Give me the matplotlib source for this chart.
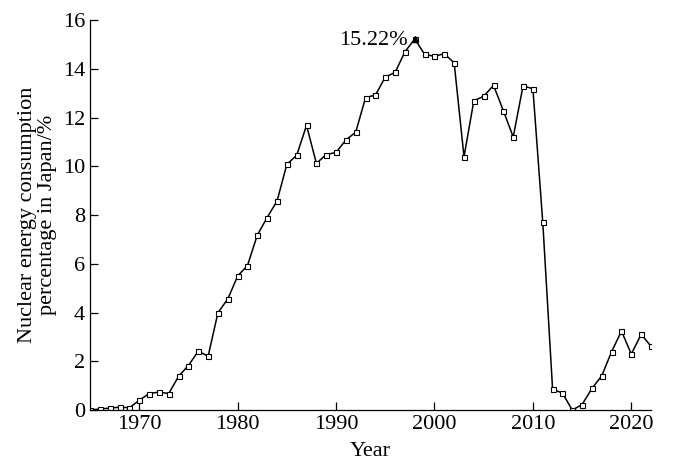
import matplotlib.pyplot as plt
import numpy as np

plt.rcParams['font.family'] = ['Liberation Serif', 'DejaVu Serif']
plt.rcParams['mathtext.fontset'] = 'stix'

# nuclear share of primary energy consumption in Japan, %
years = np.arange(1965, 2023)
share = [0.0, 0.05, 0.08, 0.12, 0.1, 0.4, 0.68, 0.74, 0.68, 1.39,
         1.83, 2.42, 2.21, 4.0, 4.56, 5.5, 5.93, 7.18, 7.9, 8.57,
         10.08, 10.45, 11.68, 10.12, 10.48, 10.57, 11.08, 11.4, 12.82, 12.92,
         13.66, 13.85, 14.7, 15.22, 14.59, 14.51, 14.62, 14.24, 10.39, 12.69,
         12.87, 13.32, 12.28, 11.2, 13.3, 13.18, 7.72, 0.86, 0.7, 0.0,
         0.23, 0.89, 1.41, 2.4, 3.24, 2.3, 3.11, 2.62]
peak_year = 1998
peak_label = '15.22%'

fig = plt.figure(figsize=(7, 4.65), dpi=100)
ax = fig.add_axes([0.1286, 0.118, 0.8014, 0.839])

ax.plot(years, share, color='black', lw=1.1, marker='s', markersize=3.6,
        markerfacecolor='white', markeredgecolor='black', markeredgewidth=0.8)
i = list(years).index(peak_year)
ax.plot(years[i], share[i], marker='^', color='black', markersize=4.5)
ax.text(years[i] - 0.7, share[i] - 0.05, peak_label, ha='right', va='center', fontsize=16)

ax.set_xlim(1965, 2022)
ax.set_ylim(0, 16)
ax.set_xticks([1970, 1980, 1990, 2000, 2010, 2020])
ax.set_yticks(range(0, 17, 2))
ax.tick_params(direction='in', labelsize=16, length=6, width=0.9)
ax.spines['top'].set_visible(False)
ax.spines['right'].set_visible(False)
ax.spines['left'].set_linewidth(0.9)
ax.spines['bottom'].set_linewidth(0.9)
ax.set_xlabel('Year', fontsize=16, labelpad=6)
ax.set_ylabel('Nuclear energy consumption\npercentage in Japan/%', fontsize=16,
              linespacing=1.1, labelpad=4)

fig.savefig('out.png', dpi=100)
